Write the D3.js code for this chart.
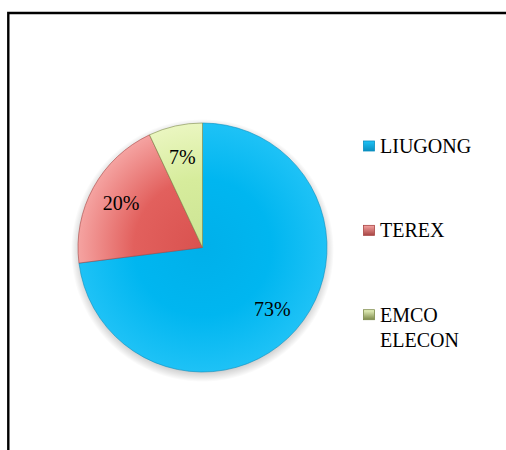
<!DOCTYPE html>
<html>
<head>
<meta charset="utf-8">
<script src="https://cdn.jsdelivr.net/npm/d3@7"></script>
</head>
<body style="margin:0">
<svg id="vis"></svg>
<script>
// DATOS ----------------------------------------------------------------------
const categorias = ["LIUGONG", "TEREX", "EMCO ELECON"];
const valores = [73, 20, 7];
const etiquetas = ["73%", "20%", "7%"];
const lineasLeyenda = [["LIUGONG"], ["TEREX"], ["EMCO", "ELECON"]];

// CONSTANTES -----------------------------------------------------------------
const WIDTH = 506;
const HEIGHT = 450;
const CX = 202.5;
const CY = 247.5;
const RADIO = 124.5;
const FUENTE = '"Liberation Serif"';

const colores = {
  LIUGONG: { base: "#00b6f0", centro: "#00b0ea", borde: "#1ec2f6", linea: "#0a8fc0" },
  TEREX: { base: "#e2605d", centro: "#d9524f", borde: "#f5a3a1", linea: "#a84644" },
  "EMCO ELECON": { base: "#d6ec9c", centro: "#cce494", borde: "#eaf6c0", linea: "#7d8a4a" },
};

const svg = d3.select("#vis").attr("width", WIDTH).attr("height", HEIGHT)
  .style("font-family", FUENTE);
const defs = svg.append("defs");

// sombra sin filtro: circulo con gradiente radial que se desvanece
const gSombra = defs.append("radialGradient").attr("id", "sombra");
gSombra.append("stop").attr("offset", "88%").attr("stop-color", "#000").attr("stop-opacity", 0.3);
gSombra.append("stop").attr("offset", "100%").attr("stop-color", "#000").attr("stop-opacity", 0);

// gradientes por categoria (coordenadas relativas al centro de la torta)
categorias.forEach((c, i) => {
  const g = defs.append("radialGradient")
    .attr("id", "grad" + i)
    .attr("gradientUnits", "userSpaceOnUse")
    .attr("cx", 0).attr("cy", 0).attr("r", RADIO);
  g.append("stop").attr("offset", "0%").attr("stop-color", colores[c].centro);
  g.append("stop").attr("offset", "55%").attr("stop-color", colores[c].base);
  g.append("stop").attr("offset", "100%").attr("stop-color", colores[c].borde);

  const l = defs.append("linearGradient")
    .attr("id", "leg" + i).attr("x1", 0).attr("y1", 0).attr("x2", 0).attr("y2", 1);
  l.append("stop").attr("offset", "0%").attr("stop-color", colores[c].borde);
  l.append("stop").attr("offset", "100%").attr("stop-color", colores[c].linea);
});

// MARCO ----------------------------------------------------------------------
svg.append("path")
  .attr("d", `M8.3,${HEIGHT + 5} V13 H${WIDTH + 5}`)
  .attr("fill", "none")
  .attr("stroke", "#000")
  .attr("stroke-width", 2.4);

// TORTA ----------------------------------------------------------------------
const datos = categorias.map((c, i) => ({ cat: c, valor: valores[i], etiqueta: etiquetas[i], i: i }));
const pie = d3.pie().value((d) => d.valor).sort(null);
const arco = d3.arc().innerRadius(0).outerRadius(RADIO);
const arcoEtiqueta = d3.arc().innerRadius(93).outerRadius(93);

const contenedor = svg.append("g").attr("transform", `translate(${CX},${CY})`);

contenedor.append("circle")
  .attr("cx", 0)
  .attr("cy", 3)
  .attr("r", RADIO + 7)
  .attr("fill", "url(#sombra)");

contenedor.append("g")
  .selectAll("path")
  .data(pie(datos))
  .join("path")
  .attr("d", arco)
  .attr("fill", (d) => `url(#grad${d.data.i})`)
  .attr("stroke", (d) => colores[d.data.cat].linea)
  .attr("stroke-opacity", 0.6)
  .attr("stroke-width", 1);

contenedor.selectAll("text")
  .data(pie(datos))
  .join("text")
  .attr("transform", (d) => `translate(${arcoEtiqueta.centroid(d)})`)
  .attr("text-anchor", "middle")
  .attr("dy", "0.35em")
  .style("font-family", FUENTE)
  .style("font-size", "20px")
  .attr("fill", "#000")
  .text((d) => d.data.etiqueta);

// LEYENDA --------------------------------------------------------------------
const yLeyenda = d3.scalePoint().domain(categorias).range([153, 321.7]);

const leyenda = svg.append("g")
  .selectAll("g")
  .data(datos)
  .join("g")
  .attr("transform", (d) => `translate(0,${yLeyenda(d.cat)})`);

leyenda.append("rect")
  .attr("x", 363.5)
  .attr("y", -12)
  .attr("width", 11)
  .attr("height", 10)
  .attr("fill", (d) => `url(#leg${d.i})`)
  .attr("stroke", (d) => colores[d.cat].linea)
  .attr("stroke-width", 0.8);

leyenda.append("text")
  .attr("x", 380)
  .style("font-family", FUENTE)
  .style("font-size", "20px")
  .attr("fill", "#000")
  .selectAll("tspan")
  .data((d) => lineasLeyenda[d.i])
  .join("tspan")
  .attr("x", 380)
  .attr("dy", (d, j) => (j === 0 ? 0 : 25))
  .text((d) => d);
</script>
</body>
</html>
